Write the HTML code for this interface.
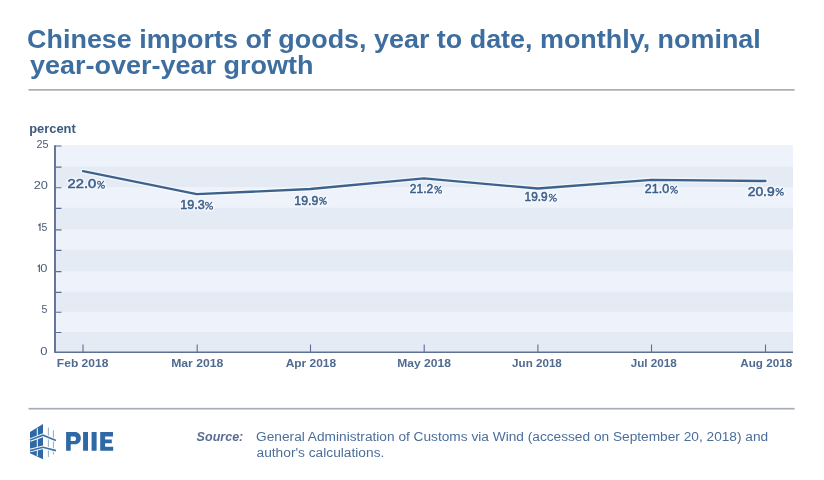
<!DOCTYPE html>
<html><head><meta charset="utf-8"><style>
html,body{margin:0;padding:0;background:#fff;width:824px;height:480px;overflow:hidden}
svg{display:block;will-change:transform}
text{font-family:"Liberation Sans",sans-serif}
</style></head><body>
<svg width="824" height="480" viewBox="0 0 824 480">
<rect width="824" height="480" fill="#fff"/>
<g fill="#3d6e9f">
<text x="27.11" y="48.10" font-size="26" font-weight="bold" textLength="733.67" lengthAdjust="spacingAndGlyphs">Chinese imports of goods, year to date, monthly, nominal</text>
<text x="29.99" y="74.30" font-size="26" font-weight="bold" textLength="283.42" lengthAdjust="spacingAndGlyphs">year-over-year growth</text>
</g>
<rect x="28.5" y="89" width="766.1" height="1.7" fill="#a7aeb5"/>
<text x="29.17" y="132.50" font-size="12.5" font-weight="bold" textLength="46.58" lengthAdjust="spacingAndGlyphs" fill="#3a5a80">percent</text>
<rect x="56" y="145.4" width="737" height="206.9" fill="#e4ebf5"/>
<rect x="56" y="145.40" width="737" height="21.20" fill="#eef3fb"/>
<rect x="56" y="187.25" width="737" height="20.55" fill="#eef3fb"/>
<rect x="56" y="229.30" width="737" height="20.60" fill="#eef3fb"/>
<rect x="56" y="271.20" width="737" height="20.60" fill="#eef3fb"/>
<rect x="56" y="311.75" width="737" height="20.25" fill="#eef3fb"/>
<path d="M55 145.2V352.3" stroke="#5e7093" stroke-width="1.9" fill="none"/>
<path d="M54.2 352.3H793" stroke="#5e7093" stroke-width="1.6" fill="none"/>
<path d="M55 146.00H61.5M55 167.10H61.5M55 187.75H61.5M55 208.30H61.5M55 229.80H61.5M55 250.40H61.5M55 271.70H61.5M55 292.30H61.5M55 312.25H61.5M55 332.50H61.5" stroke="#5e7093" stroke-width="1.2" fill="none"/>
<path d="M83 344.4V352M197.2 344.4V352M310.5 344.4V352M424.2 344.4V352M537.9 344.4V352M651.5 344.4V352M765.5 344.4V352" stroke="#5e7093" stroke-width="1.1" fill="none"/>
<g fill="#4b5b73">
<text x="36.46" y="147.90" font-size="10.0" textLength="12.00" lengthAdjust="spacingAndGlyphs">25</text>
<text x="33.66" y="188.80" font-size="10.0" textLength="14.22" lengthAdjust="spacingAndGlyphs">20</text>
<path d="M38.3 225.45L40 224.05V230.75" stroke="#4b5b73" stroke-width="1.15" fill="none"/>
<text x="41.48" y="230.75" font-size="10.0" textLength="5.85" lengthAdjust="spacingAndGlyphs">5</text>
<path d="M37.65 266.60L39.35 265.20V271.90" stroke="#4b5b73" stroke-width="1.15" fill="none"/>
<text x="40.24" y="271.90" font-size="10.0" textLength="7.13" lengthAdjust="spacingAndGlyphs">0</text>
<text x="41.48" y="312.75" font-size="10.0" textLength="5.85" lengthAdjust="spacingAndGlyphs">5</text>
<text x="40.23" y="354.60" font-size="10.0" textLength="7.24" lengthAdjust="spacingAndGlyphs">0</text>
</g>
<g fill="#516a91">
<text x="56.88" y="366.80" font-size="11" font-weight="bold" textLength="51.49" lengthAdjust="spacingAndGlyphs">Feb 2018</text>
<text x="171.17" y="366.80" font-size="11" font-weight="bold" textLength="52.11" lengthAdjust="spacingAndGlyphs">Mar 2018</text>
<text x="285.67" y="366.80" font-size="11" font-weight="bold" textLength="50.48" lengthAdjust="spacingAndGlyphs">Apr 2018</text>
<text x="397.28" y="366.80" font-size="11" font-weight="bold" textLength="53.58" lengthAdjust="spacingAndGlyphs">May 2018</text>
<text x="512.14" y="366.80" font-size="11" font-weight="bold" textLength="49.71" lengthAdjust="spacingAndGlyphs">Jun 2018</text>
<text x="630.74" y="366.80" font-size="11" font-weight="bold" textLength="46.00" lengthAdjust="spacingAndGlyphs">Jul 2018</text>
<text x="740.28" y="366.80" font-size="11" font-weight="bold" textLength="51.95" lengthAdjust="spacingAndGlyphs">Aug 2018</text>
</g>
<polyline points="83,171.2 196.7,194.2 310.3,189 424,178.4 537.7,188.5 651.5,179.8 765.5,181" fill="none" stroke="#fff" stroke-opacity="0.55" stroke-width="5" stroke-linejoin="round" stroke-linecap="round"/>
<polyline points="83,171.2 196.7,194.2 310.3,189 424,178.4 537.7,188.5 651.5,179.8 765.5,181" fill="none" stroke="#3d628c" stroke-width="2.3" stroke-linejoin="round" stroke-linecap="round"/>
<g fill="none" stroke="#f6faff" stroke-opacity="0.7" stroke-width="3.5" stroke-linejoin="round">
<text x="67.62" y="188.40" font-size="13.0" textLength="28.60" lengthAdjust="spacingAndGlyphs">22.0</text>
<text x="96.65" y="188.60" font-size="11.2" textLength="8.71" lengthAdjust="spacingAndGlyphs">%</text>
<text x="180.18" y="209.40" font-size="13.0" textLength="24.55" lengthAdjust="spacingAndGlyphs">19.3</text>
<text x="204.54" y="209.60" font-size="11.2" textLength="8.92" lengthAdjust="spacingAndGlyphs">%</text>
<text x="294.30" y="204.55" font-size="13.0" textLength="23.96" lengthAdjust="spacingAndGlyphs">19.9</text>
<text x="318.65" y="204.75" font-size="11.2" textLength="8.60" lengthAdjust="spacingAndGlyphs">%</text>
<text x="409.85" y="193.45" font-size="13.0" textLength="23.40" lengthAdjust="spacingAndGlyphs">21.2</text>
<text x="433.85" y="193.65" font-size="11.2" textLength="8.60" lengthAdjust="spacingAndGlyphs">%</text>
<text x="524.54" y="201.40" font-size="13.0" textLength="23.11" lengthAdjust="spacingAndGlyphs">19.9</text>
<text x="548.34" y="201.60" font-size="11.2" textLength="8.92" lengthAdjust="spacingAndGlyphs">%</text>
<text x="644.83" y="193.40" font-size="13.0" textLength="24.31" lengthAdjust="spacingAndGlyphs">21.0</text>
<text x="669.65" y="193.60" font-size="11.2" textLength="8.71" lengthAdjust="spacingAndGlyphs">%</text>
<text x="747.65" y="195.55" font-size="13.0" textLength="27.09" lengthAdjust="spacingAndGlyphs">20.9</text>
<text x="775.03" y="195.75" font-size="11.2" textLength="9.25" lengthAdjust="spacingAndGlyphs">%</text>
</g>
<g fill="#3d5f88" stroke="#3d5f88" stroke-width="0.55" stroke-linejoin="round">
<text x="67.64" y="188.38" font-size="13.0" textLength="28.56" lengthAdjust="spacingAndGlyphs">22.0</text>
<text x="180.20" y="209.38" font-size="13.0" textLength="24.51" lengthAdjust="spacingAndGlyphs">19.3</text>
<text x="294.32" y="204.53" font-size="13.0" textLength="23.92" lengthAdjust="spacingAndGlyphs">19.9</text>
<text x="409.87" y="193.43" font-size="13.0" textLength="23.36" lengthAdjust="spacingAndGlyphs">21.2</text>
<text x="524.56" y="201.38" font-size="13.0" textLength="23.06" lengthAdjust="spacingAndGlyphs">19.9</text>
<text x="644.85" y="193.38" font-size="13.0" textLength="24.26" lengthAdjust="spacingAndGlyphs">21.0</text>
<text x="747.68" y="195.53" font-size="13.0" textLength="27.05" lengthAdjust="spacingAndGlyphs">20.9</text>
</g>
<g fill="none" stroke="#3d5f88" stroke-width="1.1" stroke-linecap="round">
<circle cx="99.00" cy="182.75" r="1.45"/><circle cx="103.00" cy="186.65" r="1.45"/><path d="M98.20 188.15L103.60 181.25"/>
<circle cx="206.90" cy="203.75" r="1.45"/><circle cx="211.10" cy="207.65" r="1.45"/><path d="M206.10 209.15L211.70 202.25"/>
<circle cx="321.00" cy="198.90" r="1.45"/><circle cx="324.90" cy="202.80" r="1.45"/><path d="M320.20 204.30L325.50 197.40"/>
<circle cx="436.20" cy="187.80" r="1.45"/><circle cx="440.10" cy="191.70" r="1.45"/><path d="M435.40 193.20L440.70 186.30"/>
<circle cx="550.70" cy="195.75" r="1.45"/><circle cx="554.90" cy="199.65" r="1.45"/><path d="M549.90 201.15L555.50 194.25"/>
<circle cx="672.00" cy="187.75" r="1.45"/><circle cx="676.00" cy="191.65" r="1.45"/><path d="M671.20 193.15L676.60 186.25"/>
<circle cx="777.40" cy="189.90" r="1.45"/><circle cx="781.90" cy="193.80" r="1.45"/><path d="M776.60 195.30L782.50 188.40"/>
</g>
<rect x="28.5" y="407.85" width="766.1" height="1.7" fill="#a7aeb5"/>
<g>
<polygon points="30,432 43,424.1 43,459.3 30,453.2" fill="#2e69a5"/>
<path d="M37.3 428.2V456.2" stroke="#fff" stroke-width="1"/>
<path d="M48.4 427.4V457M53.4 430.2V454.6" stroke="#9cb1c9" stroke-width="1.1"/>
<path d="M30 440.1L43 435.2L56 440.6" stroke="#fff" stroke-width="3.6" fill="none"/>
<path d="M30 440.1L43 435.2L56 440.6" stroke="#3a73ad" stroke-width="1.6" fill="none"/>
<path d="M30 450.6L43 447.3L56 450.6" stroke="#fff" stroke-width="3.6" fill="none"/>
<path d="M30 450.6L43 447.3L56 450.6" stroke="#3a73ad" stroke-width="1.6" fill="none"/>
</g>
<path fill="#2e69a5" fill-rule="evenodd" d="M66.1 432.1H74.6C78.6 432.1 80.8 434.7 80.8 438.2C80.8 441.8 78.4 444.3 74.6 444.3H70.7V450.8H66.1ZM70.7 436.6H74.1C75.3 436.6 76 437.3 76 438.7C76 440.1 75.3 441 74.1 441H70.7Z"/>
<path fill="#2e69a5" d="M83.1 432.1H88V450.8H83.1ZM91.6 432.1H96.6V450.8H91.6ZM100.2 432.1H113V436.6H105.1V439.6H111.8V443.2H105.1V446.7H113.2V450.8H100.2Z"/>
<text x="196.64" y="440.60" font-size="12" font-weight="bold" font-style="italic" textLength="46.66" lengthAdjust="spacingAndGlyphs" fill="#5a6d90">Source:</text>
<g fill="#4b6e9a">
<text x="256.12" y="440.70" font-size="12" textLength="512.07" lengthAdjust="spacingAndGlyphs">General Administration of Customs via Wind (accessed on September 20, 2018) and</text>
<text x="256.53" y="456.60" font-size="12" textLength="127.82" lengthAdjust="spacingAndGlyphs">author's calculations.</text>
</g>
</svg>
</body></html>
